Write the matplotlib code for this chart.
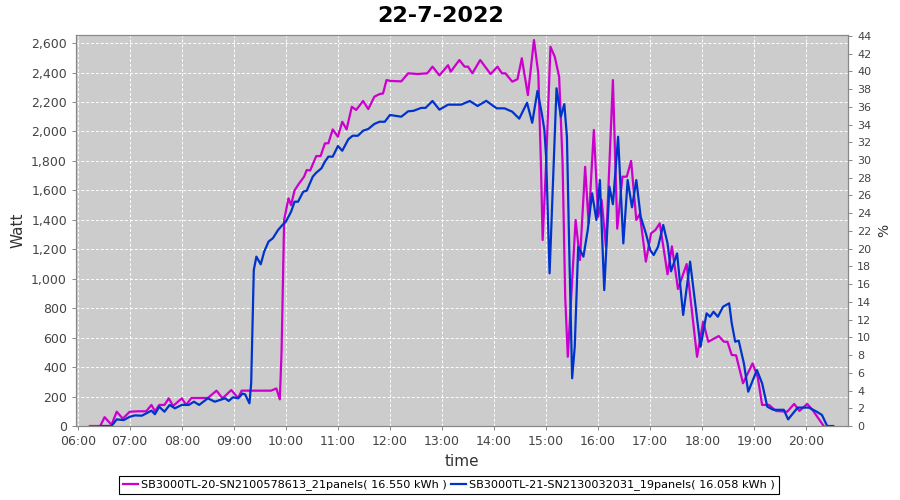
import matplotlib
matplotlib.use("Agg")
import matplotlib.pyplot as plt
import matplotlib.dates as mdates
import matplotlib.ticker as mticker
import pandas as pd

# ------------- DATA -------------
DAY = "2022-07-22"
TITLE = "22-7-2022"

M_LABEL = "SB3000TL-20-SN2100578613_21panels( 16.550 kWh )"
B_LABEL = "SB3000TL-21-SN2130032031_19panels( 16.058 kWh )"

m_times = ["06:14", "06:26", "06:31", "06:39", "06:45", "06:52", "07:00", "07:10", "07:19", "07:25",
           "07:29", "07:34", "07:40", "07:45", "07:50", "08:00", "08:05", "08:11", "08:20", "08:30",
           "08:40", "08:47", "08:57", "09:05", "09:09", "09:20", "09:30", "09:43", "09:49", "09:53",
           "09:55", "09:58", "10:03", "10:06", "10:10", "10:15", "10:21", "10:24", "10:28", "10:35",
           "10:40", "10:45", "10:49", "10:54", "11:00", "11:05", "11:10", "11:16", "11:21", "11:29",
           "11:35", "11:42", "11:48", "11:52", "11:56", "12:01", "12:13", "12:21", "12:32", "12:43",
           "12:49", "12:57", "13:07", "13:10", "13:20", "13:26", "13:30", "13:35", "13:44", "13:56",
           "14:04", "14:09", "14:13", "14:21", "14:27", "14:32", "14:39", "14:46", "14:51", "14:54",
           "14:56", "15:00", "15:05", "15:10", "15:15", "15:19", "15:22", "15:25", "15:29", "15:34",
           "15:39", "15:45", "15:49", "15:55", "16:00", "16:04", "16:09", "16:17", "16:22", "16:28",
           "16:33", "16:38", "16:44", "16:48", "16:55", "17:01", "17:06", "17:11", "17:20", "17:25",
           "17:32", "17:42", "17:54", "18:01", "18:07", "18:19", "18:25", "18:29", "18:34", "18:39",
           "18:47", "18:58", "19:04", "19:09", "19:17", "19:25", "19:38", "19:46", "19:52", "20:01",
           "20:07", "20:20"]
m_watt = [0, 0, 60, 8, 97, 50, 97, 100, 100, 143,
          100, 143, 143, 188, 136, 188, 143, 190, 190, 190,
          240, 188, 244, 190, 240, 240, 240, 240, 255, 181,
          500, 1400, 1546, 1500, 1600, 1645, 1693, 1738, 1735, 1833,
          1833, 1919, 1920, 2014, 1964, 2066, 2014, 2168, 2146, 2207,
          2152, 2236, 2254, 2258, 2349, 2343, 2340, 2395, 2390, 2395,
          2440, 2381, 2450, 2406, 2485, 2440, 2440, 2395, 2485, 2390,
          2440, 2395, 2395, 2338, 2355, 2497, 2247, 2621, 2395, 1784,
          1263, 1784, 2575, 2507, 2372, 1784, 878, 470, 878, 1399,
          1127, 1760, 1376, 2010, 1421, 1535, 1217, 2349, 1340, 1693,
          1693, 1800, 1399, 1440, 1116, 1308, 1331, 1376, 1030, 1220,
          930, 1100, 470, 708, 572, 611, 572, 572, 482, 480,
          290, 425, 330, 143, 143, 102, 97, 150, 102, 150,
          110, 0]

b_times = ["06:26", "06:39", "06:45", "06:53", "07:00", "07:06", "07:14", "07:25", "07:29", "07:34",
           "07:40", "07:46", "07:52", "08:00", "08:08", "08:14", "08:20", "08:30", "08:38", "08:50",
           "08:54", "08:59", "09:05", "09:10", "09:13", "09:18", "09:20", "09:23", "09:26", "09:31",
           "09:35", "09:40", "09:45", "09:51", "09:56", "10:00", "10:06", "10:10", "10:14", "10:20",
           "10:24", "10:31", "10:35", "10:41", "10:45", "10:49", "10:54", "11:00", "11:05", "11:12",
           "11:17", "11:23", "11:29", "11:35", "11:42", "11:48", "11:54", "12:00", "12:13", "12:21",
           "12:27", "12:36", "12:41", "12:49", "12:57", "13:07", "13:22", "13:32", "13:41", "13:51",
           "14:03", "14:12", "14:21", "14:29", "14:38", "14:44", "14:50", "14:55", "14:58", "15:00",
           "15:04", "15:08", "15:12", "15:17", "15:21", "15:24", "15:27", "15:30", "15:33", "15:37",
           "15:43", "15:48", "15:53", "15:58", "16:02", "16:07", "16:13", "16:17", "16:23", "16:29",
           "16:34", "16:39", "16:44", "16:49", "16:55", "17:00", "17:04", "17:09", "17:15", "17:20",
           "17:24", "17:31", "17:38", "17:46", "17:53", "17:58", "18:05", "18:09", "18:13", "18:18",
           "18:24", "18:31", "18:34", "18:38", "18:42", "18:48", "18:53", "19:03", "19:09", "19:15",
           "19:22", "19:34", "19:39", "19:50", "20:03", "20:12", "20:18", "20:24", "20:31"]
b_watt = [0, 0, 45, 40, 63, 72, 70, 104, 80, 131,
          97, 143, 120, 143, 143, 165, 143, 188, 165, 188,
          170, 195, 188, 220, 215, 154, 290, 1059, 1150, 1098,
          1184, 1252, 1275, 1331, 1365, 1388, 1455, 1523, 1523, 1591,
          1598, 1693, 1720, 1750, 1795, 1829, 1829, 1901, 1869, 1947,
          1971, 1971, 2005, 2017, 2051, 2066, 2066, 2112, 2100, 2137,
          2140, 2160, 2160, 2207, 2148, 2182, 2182, 2207, 2173, 2208,
          2157, 2157, 2134, 2087, 2195, 2059, 2275, 2123, 2010, 1829,
          1037, 1670, 2293, 2100, 2186, 1964, 1105, 324, 538, 1217,
          1150, 1331, 1580, 1399, 1670, 923, 1625, 1506, 1964, 1240,
          1670, 1485, 1670, 1421, 1308, 1195, 1161, 1217, 1365, 1240,
          1050, 1172, 754, 1116, 776, 538, 765, 742, 776, 742,
          810, 833, 697, 572, 580, 425, 233, 380, 290, 131,
          110, 110, 45, 125, 125, 97, 75, 0, 0]
# ---------------------------------------------------------

M_COLOR = "#cc00cc"
B_COLOR = "#0033cc"
PLOT_BG = "#cccccc"
AXIS_GRAY = "#888888"


def to_dt(times):
    return pd.to_datetime([f"{DAY} {t}" for t in times])


def main():
    plt.rcParams["font.family"] = ["DejaVu Sans"]

    fig = plt.figure(figsize=(9, 5), dpi=100)
    ax = fig.add_axes([0.0844, 0.148, 0.8578, 0.782])
    ax.set_facecolor(PLOT_BG)

    ax.plot(to_dt(m_times), m_watt, color=M_COLOR, lw=1.6, label=M_LABEL)
    ax.plot(to_dt(b_times), b_watt, color=B_COLOR, lw=1.6, label=B_LABEL)

    ax.set_xlim(pd.Timestamp(f"{DAY} 05:58"), pd.Timestamp(f"{DAY} 20:48"))
    ax.set_ylim(0, 2655)
    ax.yaxis.set_major_locator(mticker.MultipleLocator(200))
    ax.yaxis.set_major_formatter(mticker.StrMethodFormatter("{x:,.0f}"))
    ax.xaxis.set_major_locator(mdates.HourLocator())
    ax.xaxis.set_major_formatter(mdates.DateFormatter("%H:%M"))

    ax.grid(True, color="white", linestyle=(0, (3, 2)), linewidth=0.7)
    ax.set_axisbelow(True)

    for sp in ax.spines.values():
        sp.set_color(AXIS_GRAY)
    ax.tick_params(colors="#444444", labelsize=9, length=3, width=0.7)
    ax.tick_params(axis="both", color=AXIS_GRAY)

    ax.set_ylabel("Watt", fontsize=11, color="#333333")
    ax.set_xlabel("time", fontsize=11, color="#333333", labelpad=4)
    fig.suptitle(TITLE, x=0.49, y=0.988, fontsize=16, fontweight="bold")

    # right axis (%), no data drawn on it
    ax2 = ax.twinx()
    ax2.set_ylim(0, 44.1)
    ax2.yaxis.set_major_locator(mticker.MultipleLocator(2))
    ax2.tick_params(colors="#444444", labelsize=8, length=3, width=0.7)
    ax2.tick_params(axis="y", color=AXIS_GRAY)
    for sp in ax2.spines.values():
        sp.set_color(AXIS_GRAY)
    ax2.set_ylabel("%", fontsize=10, color="#333333")

    leg = fig.legend(loc="lower center", bbox_to_anchor=(0.499, 0.0), ncol=2,
                     fancybox=False, edgecolor="black", framealpha=1,
                     fontsize=8.1, handlelength=1.3, handletextpad=0.3,
                     columnspacing=0.4, borderpad=0.35)
    leg.get_frame().set_linewidth(0.8)

    fig.savefig("out.png", dpi=100)


if __name__ == "__main__":
    main()
